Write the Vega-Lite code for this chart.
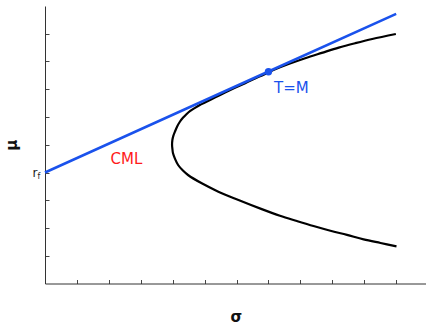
{
  "$schema": "https://vega.github.io/schema/vega-lite/v6.json",
  "width": 381.5,
  "height": 277.5,
  "autosize": {"type": "none"},
  "padding": {"left": 45, "top": 6, "right": 0, "bottom": 41},
  "background": "white",
  "config": {"view": {"stroke": null}, "font": "DejaVu Sans"},
  "datasets": {
    "frontier": [
      {"i": 1, "sigma": 10.99, "mu": 8.99},
      {"i": 2, "sigma": 10.25, "mu": 8.81},
      {"i": 3, "sigma": 9.72, "mu": 8.66},
      {"i": 4, "sigma": 9.20, "mu": 8.50},
      {"i": 5, "sigma": 8.67, "mu": 8.31},
      {"i": 6, "sigma": 8.15, "mu": 8.12},
      {"i": 7, "sigma": 7.63, "mu": 7.91},
      {"i": 8, "sigma": 7.21, "mu": 7.72},
      {"i": 9, "sigma": 7.00, "mu": 7.61},
      {"i": 10, "sigma": 6.80, "mu": 7.50},
      {"i": 11, "sigma": 6.58, "mu": 7.39},
      {"i": 12, "sigma": 6.27, "mu": 7.22},
      {"i": 13, "sigma": 5.95, "mu": 7.05},
      {"i": 14, "sigma": 5.64, "mu": 6.88},
      {"i": 15, "sigma": 5.32, "mu": 6.70},
      {"i": 16, "sigma": 5.01, "mu": 6.52},
      {"i": 17, "sigma": 4.85, "mu": 6.43},
      {"i": 18, "sigma": 4.70, "mu": 6.33},
      {"i": 19, "sigma": 4.55, "mu": 6.22},
      {"i": 20, "sigma": 4.43, "mu": 6.10},
      {"i": 21, "sigma": 4.32, "mu": 5.97},
      {"i": 22, "sigma": 4.22, "mu": 5.82},
      {"i": 23, "sigma": 4.14, "mu": 5.66},
      {"i": 24, "sigma": 4.07, "mu": 5.47},
      {"i": 25, "sigma": 4.02, "mu": 5.32},
      {"i": 26, "sigma": 3.99, "mu": 5.17},
      {"i": 27, "sigma": 3.98, "mu": 4.99},
      {"i": 28, "sigma": 3.99, "mu": 4.86},
      {"i": 29, "sigma": 4.01, "mu": 4.69},
      {"i": 30, "sigma": 4.07, "mu": 4.50},
      {"i": 31, "sigma": 4.17, "mu": 4.27},
      {"i": 32, "sigma": 4.32, "mu": 4.07},
      {"i": 33, "sigma": 4.48, "mu": 3.91},
      {"i": 34, "sigma": 4.91, "mu": 3.61},
      {"i": 35, "sigma": 5.43, "mu": 3.31},
      {"i": 36, "sigma": 6.06, "mu": 3.01},
      {"i": 37, "sigma": 6.79, "mu": 2.68},
      {"i": 38, "sigma": 7.36, "mu": 2.44},
      {"i": 39, "sigma": 7.89, "mu": 2.25},
      {"i": 40, "sigma": 8.41, "mu": 2.07},
      {"i": 41, "sigma": 8.94, "mu": 1.90},
      {"i": 42, "sigma": 9.46, "mu": 1.75},
      {"i": 43, "sigma": 9.98, "mu": 1.59},
      {"i": 44, "sigma": 10.51, "mu": 1.46},
      {"i": 45, "sigma": 11.01, "mu": 1.34}
    ],
    "cml": [
      {"i": 1, "sigma": 0, "mu": 4.0},
      {"i": 2, "sigma": 7.0, "mu": 7.64},
      {"i": 3, "sigma": 11.0, "mu": 9.72}
    ],
    "tangency": [
      {"sigma": 7.0, "mu": 7.63}
    ],
    "labels": [
      {"sigma": 2.55, "mu": 4.47, "text": "CML", "kind": "cml"},
      {"sigma": 7.72, "mu": 7.06, "text": "T=M", "kind": "tm"}
    ],
    "sub": [
      {"sigma": 0, "mu": 4.0, "text": "f"}
    ]
  },
  "encoding": {
    "x": {
      "field": "sigma",
      "type": "quantitative",
      "scale": {"domain": [0, 11.95], "nice": false, "zero": false},
      "axis": {
        "title": "σ",
        "values": [1, 2, 3, 4, 5, 6, 7, 8, 9, 10, 11],
        "labels": false,
        "grid": false,
        "tickSize": -4,
        "tickColor": "#444",
        "domainColor": "#333",
        "titlePadding": 25,
        "titleFontSize": 15,
        "titleFont": "DejaVu Sans",
        "titleColor": "#111"
      }
    },
    "y": {
      "field": "mu",
      "type": "quantitative",
      "scale": {"domain": [0, 10], "nice": false, "zero": false},
      "axis": {
        "title": "μ",
        "values": [1, 2, 3, 4, 5, 6, 7, 8, 9],
        "labelExpr": "datum.value == 4 ? 'r' : ''",
        "labelFontSize": 12,
        "labelFont": "DejaVu Sans",
        "labelColor": "#222",
        "labelPadding": 12,
        "grid": false,
        "tickSize": -4,
        "tickColor": "#444",
        "domainColor": "#333",
        "titlePadding": 13,
        "titleFontSize": 15,
        "titleFont": "DejaVu Sans",
        "titleColor": "#111"
      }
    }
  },
  "layer": [
    {
      "data": {"name": "frontier"},
      "mark": {"type": "line", "color": "#000000", "strokeWidth": 2.2, "interpolate": "catmull-rom"},
      "encoding": {"order": {"field": "i", "type": "quantitative"}}
    },
    {
      "data": {"name": "cml"},
      "mark": {"type": "line", "color": "#1a52ec", "strokeWidth": 2.5},
      "encoding": {"order": {"field": "i", "type": "quantitative"}}
    },
    {
      "data": {"name": "tangency"},
      "mark": {"type": "circle", "color": "#1a52ec", "opacity": 1, "size": 55},
      "encoding": {}
    },
    {
      "data": {"name": "labels"},
      "mark": {"type": "text", "fontSize": 15, "font": "DejaVu Sans", "align": "center", "baseline": "middle"},
      "encoding": {
        "text": {"field": "text"},
        "color": {"field": "kind", "type": "nominal", "scale": {"domain": ["cml", "tm"], "range": ["#ff1a1a", "#1a52ec"]}, "legend": null}
      }
    },
    {
      "data": {"name": "sub"},
      "mark": {"type": "text", "fontSize": 8, "font": "DejaVu Sans", "align": "left", "baseline": "middle", "dx": -7.5, "dy": 4, "color": "#222"},
      "encoding": {"text": {"field": "text"}}
    }
  ]
}
